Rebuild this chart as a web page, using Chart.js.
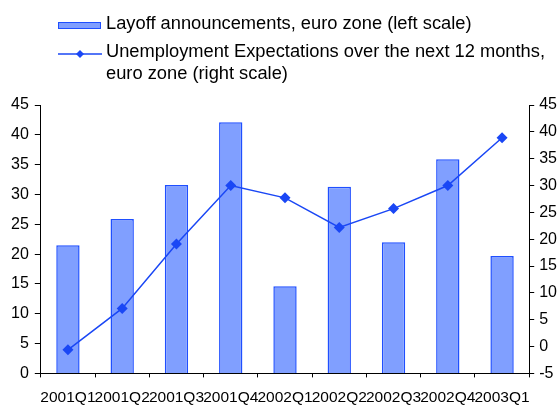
<!DOCTYPE html>
<html>
<head>
<meta charset="utf-8">
<script src="https://cdn.jsdelivr.net/npm/chart.js@4.4.1/dist/chart.umd.min.js"></script>
<style>
  html, body { margin: 0; padding: 0; background: #fff; }
  .wrap { position: relative; width: 559px; height: 406px; }
</style>
</head>
<body>
<div class="wrap"><canvas id="chart" width="559" height="406"></canvas></div>
<script>
const quarters = ['2001Q1', '2001Q2', '2001Q3', '2001Q4', '2002Q1', '2002Q2', '2002Q3', '2002Q4', '2003Q1'];
const layoffs = [21.5, 25.9, 31.6, 42.1, 14.6, 31.3, 22.0, 35.9, 19.7];
const unemploymentExpectations = [-0.6, 7.1, 19.1, 30.0, 27.7, 22.2, 25.7, 30.0, 38.9];
const layoffLabel = 'Layoff announcements, euro zone (left scale)';
const expectationsLabel = ['Unemployment Expectations over the next 12 months,', 'euro zone (right scale)'];

const barFill = '#809fff';
const barBorder = '#1f4fff';
const lineColor = '#1a47f5';
const font = "'Liberation Sans', Arial, sans-serif";

// legend drawn by hand: the second entry wraps onto two lines
const topLegend = {
    id: 'topLegend',
    afterDraw(chart) {
        const c = chart.ctx;
        c.save();
        c.font = '18.3px ' + font;
        c.textBaseline = 'alphabetic';

        c.fillStyle = barFill;
        c.fillRect(58, 22, 43, 7);
        c.strokeStyle = barBorder;
        c.lineWidth = 1;
        c.strokeRect(58.5, 22.5, 42, 6);
        c.fillStyle = '#000';
        c.fillText(layoffLabel, 106, 29);

        c.strokeStyle = lineColor;
        c.lineWidth = 1.5;
        c.beginPath();
        c.moveTo(58, 54);
        c.lineTo(102, 54);
        c.stroke();
        c.fillStyle = lineColor;
        c.beginPath();
        c.moveTo(80, 50);
        c.lineTo(84, 54);
        c.lineTo(80, 58);
        c.lineTo(76, 54);
        c.closePath();
        c.fill();
        c.fillStyle = '#000';
        expectationsLabel.forEach((t, i) => c.fillText(t, 106, 57 + i * 22));
        c.restore();
    }
};

new Chart(document.getElementById('chart'), {
    type: 'bar',
    data: {
        labels: quarters,
        datasets: [{
            type: 'line',
            label: expectationsLabel.join(' '),
            data: unemploymentExpectations,
            yAxisID: 'right',
            borderColor: lineColor,
            backgroundColor: lineColor,
            borderWidth: 1.5,
            pointStyle: 'rectRot',
            pointRadius: 5.5,
            pointBorderWidth: 0,
            tension: 0,
            order: 0
        }, {
            label: layoffLabel,
            data: layoffs,
            yAxisID: 'left',
            backgroundColor: barFill,
            borderColor: barBorder,
            borderWidth: 1.5,
            barPercentage: 0.43,
            categoryPercentage: 1,
            order: 1
        }]
    },
    options: {
        responsive: false,
        animation: false,
        layout: {
            padding: { top: 105, left: 5, right: -3, bottom: -12 }
        },
        scales: {
            x: {
                border: { display: true, color: '#000', width: 1 },
                grid: {
                    display: true,
                    offset: true,
                    drawOnChartArea: false,
                    drawTicks: true,
                    tickLength: 4,
                    color: '#000'
                },
                ticks: {
                    autoSkip: false,
                    maxRotation: 0,
                    minRotation: 0,
                    padding: 11,
                    color: '#000',
                    font: { family: font, size: 15.5 }
                }
            },
            left: {
                position: 'left',
                min: 0,
                max: 45,
                border: { display: true, color: '#000', width: 1 },
                grid: {
                    drawOnChartArea: false,
                    tickLength: 6,
                    color: '#000'
                },
                ticks: {
                    stepSize: 5,
                    padding: 6,
                    color: '#000',
                    font: { family: font, size: 16 }
                }
            },
            right: {
                position: 'right',
                min: -5,
                max: 45,
                border: { display: true, color: '#000', width: 1 },
                grid: {
                    drawOnChartArea: false,
                    tickLength: 5,
                    color: '#000'
                },
                ticks: {
                    stepSize: 5,
                    padding: 5,
                    color: '#000',
                    font: { family: font, size: 16 }
                }
            }
        },
        plugins: {
            legend: { display: false },
            tooltip: { enabled: false }
        }
    },
    plugins: [topLegend]
});
</script>
</body>
</html>
